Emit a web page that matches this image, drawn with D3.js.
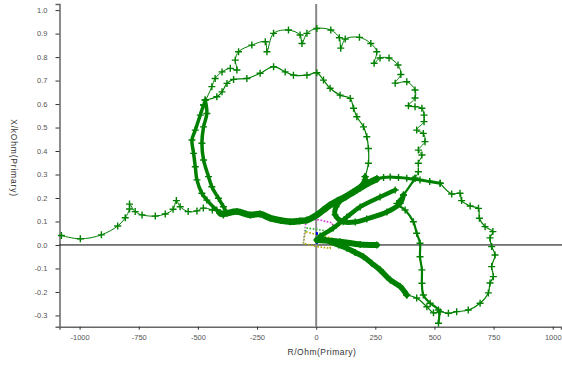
<!DOCTYPE html>
<meta charset="utf-8">
<script src="https://d3js.org/d3.v7.min.js"></script>
<style>
  body { margin: 0; background: #fff; }
  text { font-family: "Liberation Sans", Arial, sans-serif; }
</style>
<div id="chart"></div>
<script>
// impedance trajectory, [R (Ohm), X (kOhm)]
const tail = [[-1077,0.040],[-997,0.026],[-908,0.043],[-839,0.081],[-807,0.116],[-789,0.153],[-789,0.174],[-765,0.142],
  [-736,0.128],[-680,0.123],[-638,0.132],[-605,0.152],[-591,0.189],[-575,0.163],[-541,0.142],[-504,0.145],[-477,0.157],
  [-439,0.149],[-406,0.136]];
const bottomArc = [[-406,0.136],[-393,0.132],[-335,0.142],[-279,0.128],[-237,0.132],[-194,0.114],[-150,0.104],[-110,0.099],
  [-70,0.102],[-39,0.106],[3,0.128],[30,0.148],[59,0.170],[90,0.188],[123,0.204],[155,0.224],[186,0.243],[220,0.263],
  [256,0.281]];
const upperTrack = [[256,0.281],[285,0.287],[313,0.289],[348,0.287],[383,0.284],[410,0.280],[439,0.277],[480,0.270],
  [524,0.263]];
const outerLeft = [[-392,0.128],[-420,0.149],[-462,0.191],[-483,0.220],[-504,0.277],[-511,0.333],[-518,0.390],[-525,0.447],
  [-511,0.489],[-490,0.553],[-476,0.596]];
const outerTop = [[-476,0.596],[-441,0.674],[-427,0.709],[-398,0.737],[-363,0.752],[-335,0.745],[-342,0.787],[-328,0.823],
  [-272,0.851],[-215,0.865],[-208,0.823],[-180,0.901],[-117,0.915],[-68,0.894],[-60,0.858],[-39,0.901],[3,0.922],
  [62,0.915],[98,0.882],[104,0.838],[123,0.877],[183,0.884],[231,0.858],[256,0.823],[245,0.774],[270,0.796],[308,0.796],
  [346,0.766],[358,0.726],[334,0.689],[383,0.695],[418,0.660],[418,0.626],[390,0.593],[418,0.589],[447,0.582],[456,0.553],
  [456,0.525],[425,0.489],[453,0.475],[460,0.440],[432,0.404],[447,0.383],[432,0.348],[432,0.312],[418,0.284]];
const downBranch = [[418,0.284],[369,0.213],[341,0.177],[376,0.149],[411,0.099],[425,0.050],[439,0.007],[439,-0.050],
  [447,-0.106],[447,-0.163],[453,-0.213],[482,-0.248],[517,-0.277],[517,-0.333]];
const innerLeft = [[-377,0.135],[-392,0.163],[-413,0.199],[-441,0.248],[-455,0.291],[-476,0.362],[-483,0.433],[-476,0.503],
  [-462,0.560],[-469,0.617]];
const innerTop = [[-469,0.617],[-420,0.631],[-398,0.652],[-377,0.688],[-349,0.705],[-293,0.709],[-237,0.731],[-180,0.759],
  [-131,0.737],[-96,0.723],[-39,0.723],[3,0.733],[31,0.702],[59,0.667],[101,0.638],[144,0.624],[158,0.582],[172,0.546],
  [200,0.503],[214,0.461],[221,0.411],[221,0.348],[207,0.291]];
const centreLoop = [[207,0.291],[207,0.277],[172,0.234],[115,0.200],[84,0.162],[80,0.128],[114,0.099],[165,0.098],
  [214,0.111],[299,0.140],[355,0.177],[369,0.213]];
const centreDiag = [[17,0.038],[72,0.072],[130,0.119],[186,0.162],[270,0.204],[334,0.234]];
const flatBranch = [[3,0.021],[101,0.014],[186,0.002],[256,0.000]];
const rightLoop = [[524,0.263],[573,0.217],[608,0.220],[615,0.189],[651,0.166],[686,0.156],[690,0.114],[714,0.078],
  [747,0.057],[735,0.030],[742,-0.007],[756,-0.043],[742,-0.092],[749,-0.135],[735,-0.162],[728,-0.204],[693,-0.248],
  [643,-0.277],[594,-0.284],[559,-0.291],[524,-0.284],[496,-0.289],[468,-0.263],[425,-0.226],[383,-0.213]];
const lowerDiag = [[383,-0.213],[355,-0.177],[313,-0.149],[270,-0.106],[235,-0.078],[200,-0.050],[165,-0.032],
  [130,-0.014],[95,0.000],[59,0.014],[17,0.030]];

// zone characteristics
const zoneMagenta = [[-46,0.085],[-34,0.111],[17,0.106],[68,0.094],[73,0.064]];
const zoneGreen = [[-46,0.057],[-38,0.072],[17,0.064],[63,0.055]];
const zoneOlive = [[-54,0.007],[-46,0.057],[3,0.043],[66,0.029],[59,-0.014],[3,-0.007],[-54,0.007]];
const zoneGray = [[-46,0.078],[-54,0.007]];
const zoneBlue = [[3,0.055],[3,0.0]];

const xTicks = [-1000,-750,-500,-250,0,250,500,750,1000];
const yTicks = [-0.3,-0.2,-0.1,0.0,0.1,0.2,0.3,0.4,0.5,0.6,0.7,0.8,0.9,1.0];

var W = 562, H = 365;
var svg = d3.select("#chart").append("svg").attr("width", W).attr("height", H);

var x = d3.scaleLinear().domain([-1085, 1035]).range([59.5, 561]);
var y = d3.scaleLinear().domain([-0.348, 1.026]).range([326.7, 4]);

// axes
var gx = svg.append("g").attr("transform", "translate(0," + y(-0.348) + ")")
  .call(d3.axisBottom(x).tickValues(xTicks).tickSize(3).tickPadding(5).tickFormat(d => String(d)));
var gy = svg.append("g").attr("transform", "translate(" + x(-1085) + ",0)")
  .call(d3.axisLeft(y).tickValues(yTicks).tickSize(4).tickPadding(8).tickFormat(d => d.toFixed(1)));
[gx, gy].forEach(g => {
  g.select(".domain").attr("stroke", "#666").attr("stroke-width", 1.5);
  g.selectAll(".tick line").attr("stroke", "#333");
  g.selectAll(".tick text").attr("fill", "#555").style("font-size", "7.5px");
});

// zero lines
svg.append("line").attr("x1", x(-1085)).attr("x2", 562).attr("y1", y(0)).attr("y2", y(0))
  .attr("stroke", "#000").attr("stroke-width", 1);
svg.append("line").attr("x1", x(0)).attr("x2", x(0)).attr("y1", y(1.026)).attr("y2", y(-0.348))
  .attr("stroke", "#888").attr("stroke-width", 2);

svg.append("text").attr("x", 322).attr("y", 355).attr("text-anchor", "middle")
  .attr("fill", "#333").style("font-size", "8.5px").style("letter-spacing", "0.5px").text("R/Ohm(Primary)");
svg.append("text").attr("transform", "translate(11,158) rotate(90)").attr("text-anchor", "middle")
  .attr("fill", "#333").style("font-size", "8.5px").style("letter-spacing", "0.8px").text("X/kOhm(Primary)");

var line = d3.line().x(d => x(d[0])).y(d => y(d[1])).curve(d3.curveCatmullRom.alpha(0.5));
var poly = d3.line().x(d => x(d[0])).y(d => y(d[1]));

// zones
[[zoneMagenta, "#e030e0"], [zoneGreen, "#30b030"], [zoneOlive, "#b0a800"], [zoneGray, "#999"]].forEach(z => {
  svg.append("path").attr("d", poly(z[0])).attr("fill", "none").attr("stroke", z[1])
    .attr("stroke-width", 1.6).attr("stroke-dasharray", "1.6,1.6");
});
svg.append("path").attr("d", poly(zoneBlue)).attr("fill", "none").attr("stroke", "#0000ee")
  .attr("stroke-width", 2).attr("stroke-dasharray", "3,1.5");

var green = "#008000";
var segs = [
  [tail, 1], [outerTop, 1], [innerTop, 1.2], [rightLoop, 1.2], [downBranch, 2.2],
  [outerLeft, 3.5], [innerLeft, 3.5], [bottomArc, 6.5], [upperTrack, 3], [centreLoop, 5], [centreDiag, 4.5],
  [flatBranch, 6], [lowerDiag, 5.5]
];
segs.forEach(s => {
  svg.append("path").attr("d", line(s[0])).attr("fill", "none").attr("stroke", green)
    .attr("stroke-width", s[1]).attr("stroke-linecap", "round").attr("stroke-linejoin", "round");
  svg.append("g").selectAll("path").data(s[0]).enter().append("path")
    .attr("d", "M-3.5,0H3.5M0,-3.5V3.5")
    .attr("transform", d => "translate(" + x(d[0]) + "," + y(d[1]) + ")")
    .attr("stroke", green).attr("stroke-width", 1.4).attr("fill", "none");
});
</script>
